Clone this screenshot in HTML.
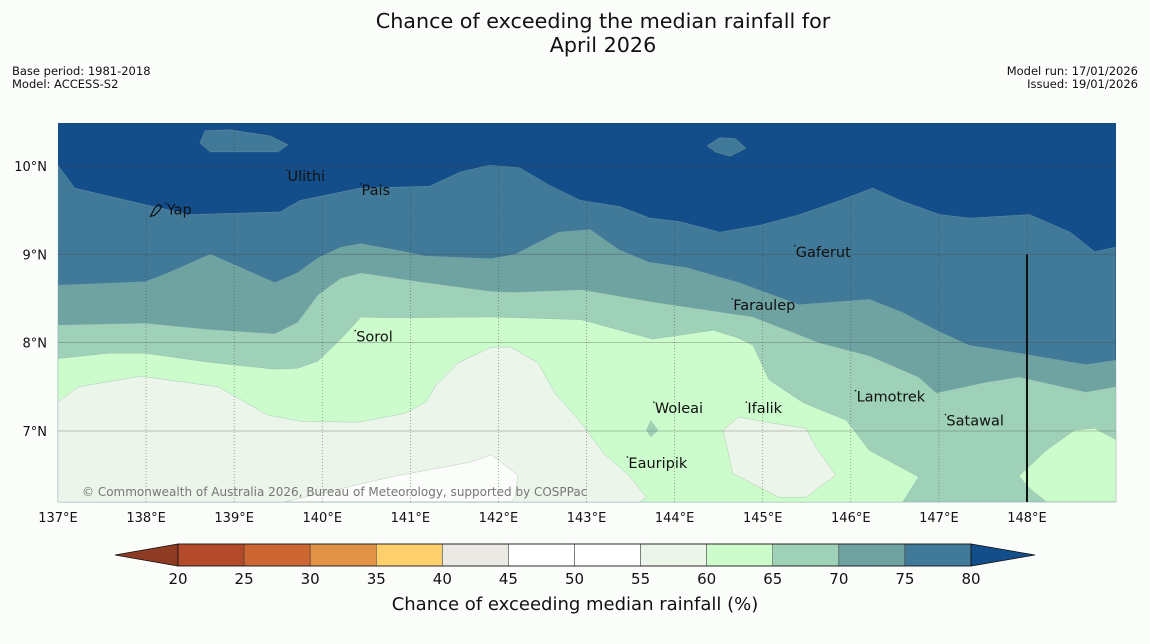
<!DOCTYPE html>
<html><head><meta charset="utf-8">
<style>
body{margin:0;background:#fbfdfa;font-family:"Liberation Sans","DejaVu Sans",sans-serif;}
svg{display:block}
text{font-family:"DejaVu Sans","Liberation Sans",sans-serif;}
</style></head>
<body>
<svg id="chart" width="1150" height="644" xmlns="http://www.w3.org/2000/svg">
<rect x="0" y="0" width="1150" height="644" fill="#fbfdfa"/>
<text x="603" y="28" font-size="20.7" text-anchor="middle" fill="#111">Chance of exceeding the median rainfall for</text>
<text x="603" y="52" font-size="20.7" text-anchor="middle" fill="#111">April 2026</text>
<text x="12" y="75" font-size="11.5" fill="#111">Base period: 1981-2018</text>
<text x="12" y="88" font-size="11.5" fill="#111">Model: ACCESS-S2</text>
<text x="1138" y="75" font-size="11.5" fill="#111" text-anchor="end">Model run: 17/01/2026</text>
<text x="1138" y="88" font-size="11.5" fill="#111" text-anchor="end">Issued: 19/01/2026</text>
<g id="map"></g>
<g id="cbar"></g>
</svg>
<script>
const lonTicks=[137,138,139,140,141,142,143,144,145,146,147,148];
const latTicks=[10,9,8,7];
const levels=[20,25,30,35,40,45,50,55,60,65,70,75,80];
const levelColors=["#b34b2b","#cc6633","#e09347","#fdd06b","#ebe9e4","#ffffff","#ffffff","#ecf5ea","#ccfccc","#9ed1b7","#6ea3a2","#417a99"];
const underColor="#8f3a22", overColor="#134e8a";
const c80Lon=[137.0,137.19,138.0,138.5,139.52,139.75,140.43,141.22,141.56,141.9,142.24,142.58,142.93,143.38,143.72,144.06,144.51,144.97,145.42,145.88,146.25,146.56,147.01,147.35,148.03,148.49,148.77,149.0];
const c80Lat=[10.01,9.75,9.56,9.45,9.48,9.61,9.75,9.77,9.93,10.01,9.98,9.78,9.61,9.54,9.41,9.37,9.25,9.33,9.45,9.61,9.75,9.61,9.45,9.41,9.45,9.25,9.03,9.08];
const c75Lon=[137.0,137.76,137.99,138.25,138.73,138.96,139.46,139.72,139.95,140.21,140.44,140.94,141.17,141.92,142.19,142.68,143.04,143.37,143.71,144.13,144.73,145.41,146.21,146.59,146.97,147.34,147.91,148.67,149.01];
const c75Lat=[8.65,8.68,8.69,8.79,9.0,8.9,8.68,8.79,8.96,9.08,9.12,9.03,8.98,8.95,9.0,9.25,9.28,9.05,8.91,8.85,8.68,8.43,8.49,8.34,8.14,7.97,7.88,7.75,7.8];
const c70Lon=[137.0,137.99,138.7,139.46,139.72,139.95,140.21,140.44,141.17,141.92,142.19,142.94,143.75,144.89,145.64,146.21,146.77,146.97,147.53,147.91,148.67,149.01];
const c70Lat=[8.2,8.22,8.15,8.1,8.23,8.54,8.73,8.79,8.68,8.58,8.57,8.6,8.46,8.29,8.0,7.85,7.61,7.43,7.55,7.61,7.44,7.5];
const c65Lon=[137.0,137.57,137.99,138.7,139.46,139.72,139.95,140.21,140.44,140.78,141.92,142.94,143.75,144.44,144.73,144.89,145.07,145.46,145.95,146.21,146.77,146.59];
const c65Lat=[7.82,7.88,7.88,7.78,7.7,7.71,7.79,8.04,8.29,8.28,8.29,8.26,8.04,8.14,8.05,7.97,7.58,7.32,7.12,6.78,6.48,6.2];
const c60Lon=[137.0,137.23,137.94,138.82,139.38,139.76,140.41,140.94,141.18,141.29,141.54,141.92,142.14,142.45,142.64,142.94,143.19,143.48,143.68,143.61];
const c60Lat=[7.33,7.5,7.62,7.5,7.18,7.11,7.1,7.2,7.33,7.52,7.77,7.95,7.95,7.77,7.43,7.09,6.75,6.5,6.25,6.2];
const c55Lon=[139.58,140.78,141.69,141.92,142.22,142.19,142.15];
const c55Lat=[6.2,6.48,6.65,6.73,6.5,6.25,6.2];
const ifalikLon=[144.73,144.55,144.66,145.18,145.49,145.83,145.6,145.49,145.04];
const ifalikLat=[7.16,7.01,6.52,6.25,6.25,6.5,6.82,7.03,7.1];
const blobLon=[147.91,148.22,148.54,148.77,149.01,149.01,148.22,148.03];
const blobLat=[6.49,6.78,7.01,7.03,6.9,6.2,6.2,6.35];
const diamondLon=[143.73,143.81,143.73,143.68];
const diamondLat=[7.12,7.01,6.93,7.01];
const isl1Lon=[138.67,138.95,139.41,139.61,139.5,138.73,138.61];
const isl1Lat=[10.4,10.41,10.34,10.24,10.16,10.16,10.26];
const isl2Lon=[144.37,144.51,144.69,144.81,144.63,144.46];
const isl2Lat=[10.23,10.32,10.31,10.2,10.11,10.16];
const placeNames=["Yap","Ulithi","Pais","Gaferut","Faraulep","Sorol","Woleai","Ifalik","Lamotrek","Satawal","Eauripik"];
const placeLon=[138.19,139.56,140.40,145.33,144.62,140.34,143.73,144.78,146.02,147.04,143.43];
const placeLat=[9.52,9.9,9.74,9.04,8.44,8.08,7.27,7.27,7.4,7.13,6.65];

const NS="http://www.w3.org/2000/svg";
const X0=58,X1=1116,Y0=123,Y1=502;
const xS=lon=>58+(lon-137)*88.09;
const yS=lat=>166+(10-lat)*88.33;
const map=document.getElementById('map');
function mk(tag,attrs,parent){const e=document.createElementNS(NS,tag);for(const k in attrs)e.setAttribute(k,attrs[k]);parent.appendChild(e);return e;}
function pts(lons,lats){return lons.map((l,i)=>xS(l).toFixed(1)+','+yS(lats[i]).toFixed(1));}
function below(lons,lats,color,name){
  const p=pts(lons,lats);
  const last=lons[lons.length-1];
  p.push(xS(last).toFixed(1)+','+Y1, X0+','+Y1);
  const e=mk('polygon',{points:p.join(' '),fill:color,stroke:'#8aa',"stroke-width":0.3},map);
  
  
}
function poly(lons,lats,color,name){
  const e=mk('polygon',{points:pts(lons,lats).join(' '),fill:color,stroke:'#9a9',"stroke-width":0.3},map);
  
  
}
const bg=mk('rect',{x:X0,y:Y0,width:X1-X0,height:Y1-Y0,fill:overColor},map);


below(c80Lon,c80Lat,levelColors[11],'region-75-80');
poly(isl1Lon,isl1Lat,levelColors[11],'patch-75-80-west');
poly(isl2Lon,isl2Lat,levelColors[11],'patch-75-80-east');
below(c75Lon,c75Lat,levelColors[10],'region-70-75');
below(c70Lon,c70Lat,levelColors[9],'region-65-70');
below(c65Lon,c65Lat,levelColors[8],'region-60-65');
poly(blobLon,blobLat,levelColors[8],'region-60-65-east');
below(c60Lon,c60Lat,levelColors[7],'region-55-60');
poly(c55Lon,c55Lat,'#fbfdfa','region-50-55');
poly(ifalikLon,ifalikLat,levelColors[7],'region-55-60-ifalik');
poly(diamondLon,diamondLat,levelColors[9],'patch-65-70-woleai');
lonTicks.forEach(l=>{
  const x=xS(l);
  if(l>137){const g=mk('line',{x1:x,y1:Y0,x2:x,y2:Y1,stroke:'#333',"stroke-width":0.7,"stroke-dasharray":"1,2",opacity:0.6},map);
  
  }
  const t=mk('text',{x:x,y:522,"font-size":13,"text-anchor":"middle",fill:'#111'},map);t.textContent=l+'°E';
  
  
});
latTicks.forEach(l=>{
  const y=yS(l);
  const g=mk('line',{x1:X0,y1:y,x2:X1,y2:y,stroke:'#444',"stroke-width":0.8,opacity:0.4},map);
  
  
  const t=mk('text',{x:47,y:y+5,"font-size":13,"text-anchor":"end",fill:'#111'},map);t.textContent=l+'°N';
  
  
});
const bl=mk('line',{x1:xS(148),y1:yS(9),x2:xS(148),y2:Y1,stroke:'#111',"stroke-width":2},map);


const yap=mk('path',{d:`M${xS(138.05)},${yS(9.43)} l4,-8 l4,-4 l3,2 l-2,4 l-5,5 z`,fill:'none',stroke:'#111',"stroke-width":1.2},map);


placeNames.forEach((n,i)=>{
  const x=xS(placeLon[i]),y=yS(placeLat[i]);
  const t=mk('text',{x:x+4,y:y+6,"font-size":14.5,fill:'#111'},map);t.textContent=n;
  
  
  const d=mk('circle',{cx:x+3,cy:y-5,r:0.8,fill:'#111'},map);
  
  
});
const cp=mk('text',{x:82,y:496,"font-size":12,fill:'#777'},map);cp.textContent='© Commonwealth of Australia 2026, Bureau of Meteorology, supported by COSPPac';


const cb=document.getElementById('cbar');
const C0=178,C1=971,CY=544,CH=22;
const cx=v=>C0+(v-20)/(80-20)*(C1-C0);
const lt=mk('polygon',{points:`${C0},${CY} ${C0},${CY+CH} 115,${CY+CH/2}`,fill:underColor,stroke:'#111',"stroke-width":0.8},cb);


const rt=mk('polygon',{points:`${C1},${CY} ${C1},${CY+CH} 1035,${CY+CH/2}`,fill:overColor,stroke:'#111',"stroke-width":0.8},cb);


for(let i=0;i<levels.length-1;i++){
  const r=mk('rect',{x:cx(levels[i]),y:CY,width:cx(levels[i+1])-cx(levels[i]),height:CH,fill:levelColors[i],stroke:'#333',"stroke-width":0.5},cb);
  
  
}
const fr=mk('rect',{x:C0,y:CY,width:C1-C0,height:CH,fill:'none',stroke:'#111',"stroke-width":0.8},cb);


levels.forEach(v=>{
  const t=mk('text',{x:cx(v),y:584,"font-size":15,"text-anchor":"middle",fill:'#111'},cb);t.textContent=v;
  
  
});
const ct=mk('text',{x:575,y:610,"font-size":18,"text-anchor":"middle",fill:'#111'},cb);ct.textContent='Chance of exceeding median rainfall (%)';


</script>
</body></html>
